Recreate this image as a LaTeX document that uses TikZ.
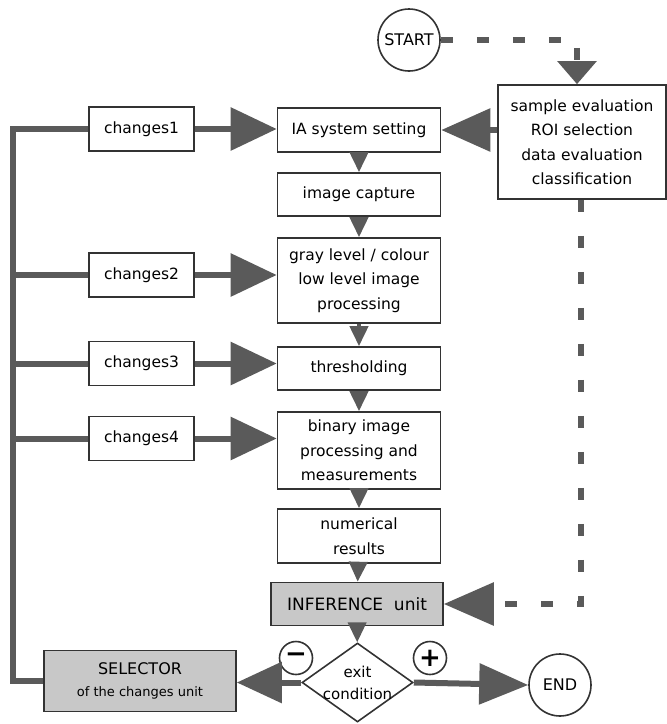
\documentclass[tikz,border=0pt]{standalone}
\usepackage{fontspec}
\setmainfont{DejaVu Sans}
\usetikzlibrary{arrows.meta,shapes.geometric,positioning}

\definecolor{arrowgray}{HTML}{5A5A5A}
\definecolor{boxline}{HTML}{333333}
\definecolor{unitfill}{HTML}{C8C8C8}

\begin{document}
\begin{tikzpicture}[x=1pt, y=-1pt,
    box/.style = {draw=boxline, line width=1.6pt, align=center, inner sep=2pt, font=\fontsize{15.5}{24.5}\selectfont},
    mainbox/.style = {box, minimum width=163pt},
    chbox/.style = {box, minimum width=105pt, minimum height=44pt},
    unitbox/.style = {box, fill=unitfill},
    endpt/.style = {draw=boxline, line width=1.6pt, circle, minimum size=62pt, inner sep=0pt, font=\fontsize{16}{18}\selectfont},
    sign/.style = {draw=boxline, line width=1.6pt, circle, minimum size=33pt, inner sep=0pt, font=\bfseries\fontsize{26}{26}\selectfont},
    big/.style = {arrowgray, line width=6pt, -{Triangle[length=46pt,width=42pt]}},
    small/.style = {arrowgray, line width=4pt, -{Triangle[length=20pt,width=18pt]}},
    dashline/.style = {arrowgray, line width=6pt, dash pattern=on 12pt off 24pt},
    feed/.style = {arrowgray, line width=6pt}]
    \useasboundingbox (0,0) rectangle (667,724);

    % main chain
    \node[mainbox, minimum height=44pt] (ia) at (359,130) {IA system setting};
    \node[mainbox, minimum height=43pt] (cap) at (359,194.5) {image capture};
    \node[mainbox, minimum height=85pt] (gray) at (359,280.5) {gray level / colour\\low level image\\processing};
    \node[mainbox, minimum height=43pt] (thr) at (359,368.5) {thresholding};
    \node[mainbox, minimum height=77pt] (bin) at (359,450.5) {binary image\\processing and\\measurements};
    \node[mainbox, minimum height=54pt] (num) at (359,536) {numerical\\results};
    \node[unitbox, minimum width=172pt, minimum height=43pt, font=\fontsize{17}{20}\selectfont] (inf) at (357,604) {INFERENCE\ \ unit};
    \node[draw=boxline, line width=1.6pt, diamond, minimum width=111pt, minimum height=79pt, inner sep=0pt,
          label={[align=center, font=\fontsize{15}{22}\selectfont]center:exit\\condition}] (exit) at (357.5,682.5) {};
    \node[unitbox, minimum width=192pt, minimum height=61pt] (sel) at (140,681)
        {{\fontsize{16}{24}\selectfont SELECTOR}\\[-2pt]{\fontsize{13}{16}\selectfont of the changes unit}};
    \node[endpt] (end) at (560,685) {END};
    \node[endpt] (start) at (409,40) {START};
    \node[box, minimum width=168pt, minimum height=114pt] (sample) at (582,142)
        {sample evaluation\\ROI selection\\data evaluation\\classification};
    \node[sign] (minus) at (296,658) {−};
    \node[sign] (plus) at (430,658) {+};

    % changes boxes
    \node[chbox] (ch1) at (141.5,129) {changes1};
    \node[chbox] (ch2) at (141.5,275) {changes2};
    \node[chbox] (ch3) at (141.5,363.5) {changes3};
    \node[chbox] (ch4) at (141.5,438.5) {changes4};

    \coordinate (ltop) at (13,129);
    \coordinate (lbot) at (13,681);
    \coordinate (sturn) at (577,40);
    \coordinate (rturn) at (581,604);

    \draw[small] (ia) -- (cap);
    \draw[small] (cap) -- (gray);
    \draw[small] (gray) -- (thr);
    \draw[small] (thr) -- (bin);
    \draw[small] (bin) -- (num);
    \draw[small] (num) -- (inf);
    \draw[small] (inf) -- (exit);

    \draw[big] (ch1.east) -- (ch1.east -| ia.west);
    \draw[big] (ch2.east) -- (ch2.east -| gray.west);
    \draw[big] (ch3.east) -- (ch3.east -| thr.west);
    \draw[big] (ch4.east) -- (ch4.east -| bin.west);
    \draw[big, -{Triangle[length=49pt,width=42pt]}] (sample.west |- ia.east) -- (ia.east);

    % feedback loop
    \draw[feed] (ch1.west) -- (ltop) -- (lbot) -- (sel.west);
    \foreach \c in {ch2,ch3,ch4}
        \draw[feed] (\c.west) -- (\c.west -| ltop);
    \draw[big, -{Triangle[length=45pt,width=40pt]}] (exit.west) -- (exit.west -| sel.east);
    \draw[big, -{Triangle[length=49pt,width=40pt]}] (exit.east) -- (end.west);

    % dashed paths
    \draw[dashline, -{Triangle[length=23pt,width=38pt]}] (start.east) -- (sturn) -- (sturn |- sample.north);
    \draw[dashline, -{Triangle[length=50pt,width=42pt]}] (sample.south -| rturn) -- (rturn) -- (inf.east);
\end{tikzpicture}
\end{document}
